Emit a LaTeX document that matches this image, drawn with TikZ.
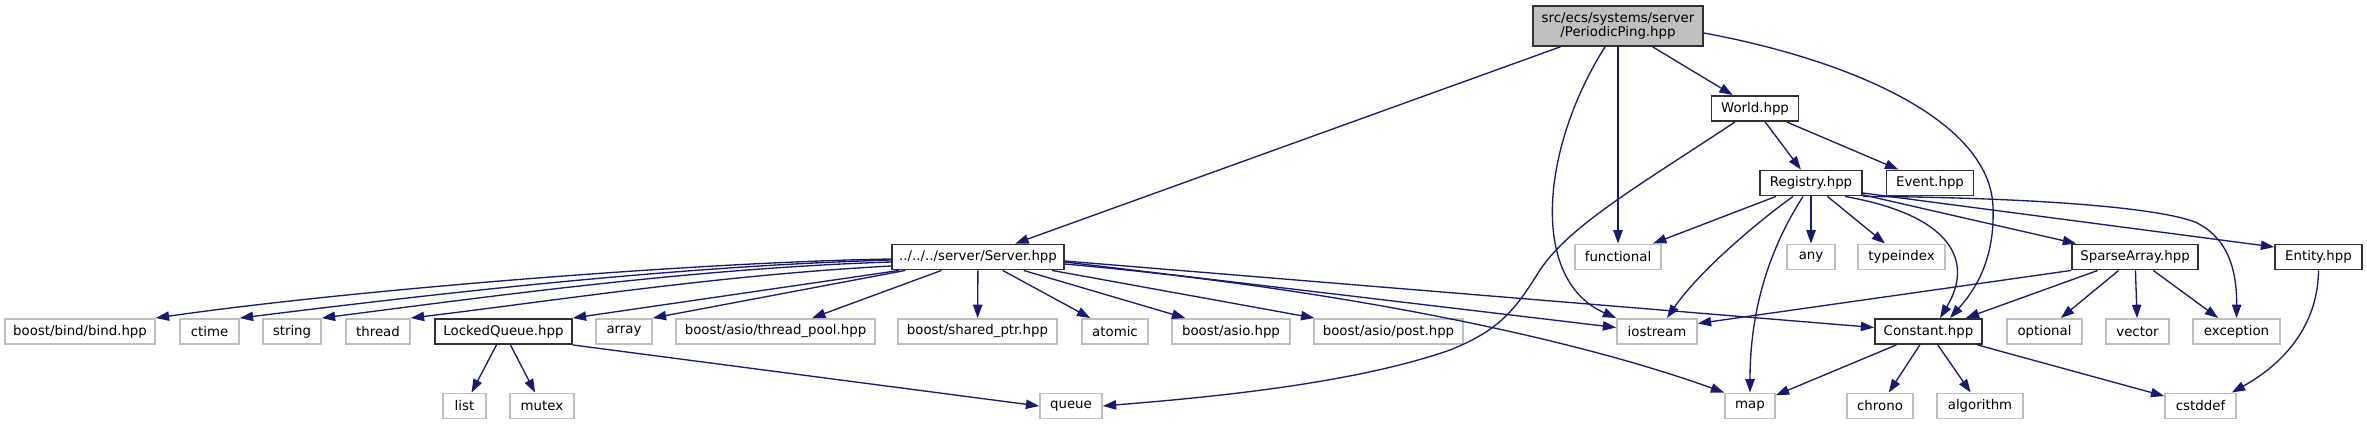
\documentclass[tikz,border=0pt]{standalone}
\usepackage{fontspec}
\setmainfont{DejaVu Sans}
\usetikzlibrary{arrows.meta,calc}
\definecolor{edgeblue}{HTML}{191970}
\definecolor{gborder}{HTML}{BFBFBF}
\definecolor{rootgray}{HTML}{BFBFBF}
\definecolor{docborder}{HTML}{303030}
\begin{document}
\begin{tikzpicture}[x=0.75pt,y=-0.75pt,
  base/.style={rectangle, inner sep=0pt, minimum height=19pt, font=\fontsize{10}{10.5}\selectfont, text=black},
  ext/.style={base, draw=gborder, line width=1.2pt, fill=white},
  doc/.style={base, draw=docborder, line width=1.2pt, fill=white},
  root/.style={base, draw=docborder, line width=1.2pt, fill=rootgray, minimum height=30pt, align=center},
  bw/.style={minimum width=#1*0.75pt},
  lnk/.style={draw=edgeblue, line width=1pt, -{Triangle[length=10pt,width=7pt]}}]
\fill[white] (0,0) rectangle (2367,425);
\useasboundingbox (0,0) rectangle (2367,425);
% row 0-2
\node[root,bw=170] (p) at (1618,26) {src/ecs/systems/server\\/PeriodicPing.hpp};
\node[doc,bw=87] (world) at (1755,108.5) {World.hpp};
\node[doc,bw=102] (reg) at (1811,183) {Registry.hpp};
\node[doc,bw=87] (event) at (1930,183) {Event.hpp};
% row 3
\node[doc,bw=172] (srv) at (978,257) {../../../server/Server.hpp};
\node[ext,bw=86] (fun) at (1618,257) {functional};
\node[ext,bw=48] (any) at (1811,257) {any};
\node[ext,bw=87] (tidx) at (1901.5,257) {typeindex};
\node[doc,bw=126] (sparse) at (2135,257) {SparseArray.hpp};
\node[doc,bw=87] (entity) at (2318.5,257) {Entity.hpp};
% row 4
\node[ext,bw=150] (bind) at (80,331.5) {boost/bind/bind.hpp};
\node[ext,bw=59] (ctime) at (209.5,331.5) {ctime};
\node[ext,bw=58] (string) at (292,331.5) {string};
\node[ext,bw=64] (thread) at (378,331.5) {thread};
\node[doc,bw=137] (lq) at (503.5,331.5) {LockedQueue.hpp};
\node[ext,bw=56] (array) at (624,331.5) {array};
\node[ext,bw=199] (tpool) at (775.5,331.5) {boost/asio/thread\_pool.hpp};
\node[ext,bw=159] (sptr) at (977.5,331.5) {boost/shared\_ptr.hpp};
\node[ext,bw=66] (atomic) at (1115,331.5) {atomic};
\node[ext,bw=118] (asio) at (1231,331.5) {boost/asio.hpp};
\node[ext,bw=149] (post) at (1388.5,331.5) {boost/asio/post.hpp};
\node[ext,bw=80] (io) at (1657,331.5) {iostream};
\node[doc,bw=107] (const) at (1928.5,331.5) {Constant.hpp};
\node[ext,bw=75] (opt) at (2044.5,331.5) {optional};
\node[ext,bw=63] (vec) at (2137.5,331.5) {vector};
\node[ext,bw=87] (exc) at (2236.5,331.5) {exception};
% row 5
\node[ext,bw=43] (list) at (464.5,406) {list};
\node[ext,bw=64] (mutex) at (542,406) {mutex};
\node[ext,bw=62] (queue) at (1071,406) {queue};
\node[ext,bw=50] (map) at (1750,406) {map};
\node[ext,bw=66] (chrono) at (1880,406) {chrono};
\node[ext,bw=86] (alg) at (1980,406) {algorithm};
\node[ext,bw=71] (cst) at (2200.5,406) {cstddef};
% PeriodicPing edges
\draw[lnk] (p) -- (srv);
\draw[lnk] ($(p.south)+(-13,0)$) .. controls (1540,150) and (1530,280) .. (io.north west);
\draw[lnk] (p.south) -- (fun.north);
\draw[lnk] (p) -- (world);
\draw[lnk] ($(p.east)+(0,7)$) .. controls (1850,60) and (1990,120) .. (1993,207) .. controls (1995,260) and (1975,290) .. ($(const.north)+(21.5,0)$);
% World edges
\draw[lnk] ($(world.south)+(-20,0)$) .. controls (1640,185) and (1570,225) .. (1540,270) .. controls (1515,310) and (1500,330) .. (1450,350) .. controls (1350,385) and (1200,398) .. (queue.east);
\draw[lnk] (world) -- (reg);
\draw[lnk] (world) -- (event);
% Registry edges
\draw[lnk] (reg) -- (fun);
\draw[lnk] ($(reg.south)+(-18,0)$) .. controls (1760,220) and (1700,270) .. ($(io.north)+(10,0)$);
\draw[lnk] ($(reg.south)+(-8,0)$) .. controls (1775,240) and (1750,300) .. (map.north);
\draw[lnk] (reg.south) -- (any.north);
\draw[lnk] (reg) -- (tidx);
\draw[lnk] ($(reg.south)+(34,0)$) .. controls (1950,215) and (1975,260) .. ($(const.north)+(11.5,0)$);
\draw[lnk] (reg) -- (sparse);
\draw[lnk] (reg.south east) .. controls (2000,197) and (2150,205) .. (2195,222) .. controls (2225,236) and (2237,265) .. (exc.north);
\draw[lnk] ($(reg.east)+(0,10)$) -- ($(entity.west)+(0,-10)$);
% SparseArray edges
\draw[lnk] (sparse.south west) -- ($(io.east)+(0,-8)$);
\draw[lnk] (sparse) -- (const);
\draw[lnk] (sparse) -- (opt);
\draw[lnk] (sparse) -- (vec);
\draw[lnk] (sparse) -- (exc);
% Entity
\draw[lnk] (entity.south) .. controls (2318,320) and (2290,360) .. ($(cst.north east)+(-5,0)$);
% Constant
\draw[lnk] (const) -- (map);
\draw[lnk] (const) -- (chrono);
\draw[lnk] (const) -- (alg);
\draw[lnk] (const) -- (cst);
% LockedQueue
\draw[lnk] (lq) -- (list);
\draw[lnk] (lq) -- (mutex);
\draw[lnk] (lq.south east) -- (queue.west);
% Server
\draw[lnk] ($(srv.west)+(0,2)$) .. controls (700,262) and (350,290) .. (bind.north east);
\draw[lnk] ($(srv.west)+(0,3)$) .. controls (680,266) and (450,292) .. (ctime.north east);
\draw[lnk] ($(srv.west)+(0,5)$) .. controls (700,268) and (500,295) .. (string.north east);
\draw[lnk] ($(srv.west)+(0,9)$) .. controls (720,275) and (560,300) .. (thread.north east);
\draw[lnk] ($(srv.south west)+(8,0)$) -- (lq.north east);
\draw[lnk] ($(srv.south west)+(14,0)$) -- (array.north east);
\draw[lnk] (srv) -- (tpool);
\draw[lnk] (srv) -- (sptr);
\draw[lnk] (srv) -- (atomic);
\draw[lnk] (srv) -- (asio);
\draw[lnk] (srv) -- (post);
\draw[lnk] ($(srv.east)+(0,5)$) -- ($(io.west)+(0,-4)$);
\draw[lnk] ($(srv.east)+(0,4)$) -- ($(const.west)+(0,-4)$);
\draw[lnk] ($(srv.east)+(0,7)$) .. controls (1300,285) and (1550,330) .. (map.north west);
\end{tikzpicture}
\end{document}
